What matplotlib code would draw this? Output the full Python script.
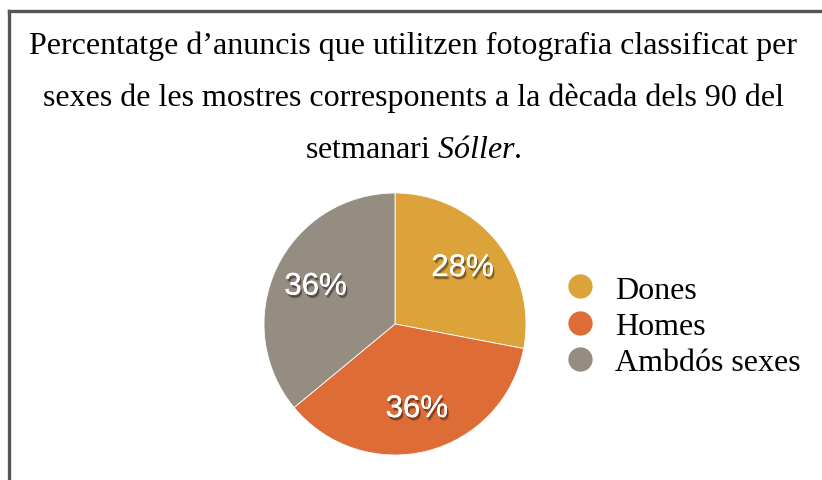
import matplotlib
matplotlib.use("Agg")
import matplotlib.pyplot as plt
from matplotlib.lines import Line2D
import matplotlib.patheffects as pe

plt.rcParams["mathtext.fontset"] = "custom"
plt.rcParams["mathtext.rm"] = "Liberation Serif"
plt.rcParams["mathtext.it"] = "Liberation Serif:italic"

categories = ["Dones", "Homes", "Ambdós sexes"]
values = [28, 36, 36]
colors = ["#DCA33A", "#DD6C36", "#958C82"]

W, H = 822, 481
fig = plt.figure(figsize=(W / 100, H / 100), dpi=100)

# frame (top + left)
fig.add_artist(Line2D([9 / W, 1], [1 - 12 / H, 1 - 12 / H], transform=fig.transFigure,
                      color="#555555", linewidth=2.4, solid_capstyle="projecting"))
fig.add_artist(Line2D([9 / W, 9 / W], [0, 1 - 12 / H], transform=fig.transFigure,
                      color="#555555", linewidth=2.4))

# title
serif = ["Liberation Serif", "DejaVu Serif"]
tx = 413 / W
fig.text(tx, 1 - 46 / H, "Percentatge d’anuncis que utilitzen fotografia classificat per",
         ha="center", va="center", fontsize=23, family=serif)
fig.text(tx, 1 - 98 / H, "sexes de les mostres corresponents a la dècada dels 90 del",
         ha="center", va="center", fontsize=23, family=serif)
fig.text(tx, 1 - 150 / H, r"setmanari $\mathit{Sóller}$.", ha="center", va="center",
         fontsize=23, family=serif)

# pie
cx, cy, r = 395, 325, 131
ax = fig.add_axes([(cx - r) / W, 1 - (cy + r) / H, 2 * r / W, 2 * r / H])
wedges, texts, autotexts = ax.pie(values, colors=colors, startangle=90, counterclock=False,
                                  autopct=lambda p: f"{p:.0f}%", pctdistance=0.67,
                                  wedgeprops=dict(linewidth=0.6, edgecolor="white"),
                                  textprops=dict(color="white", fontsize=22.5,
                                                 family=["Liberation Sans", "DejaVu Sans"]))
for t in autotexts:
    t.set_path_effects([
        pe.withSimplePatchShadow(offset=(1.5, -2.5), shadow_rgbFace="black", alpha=0.18),
        pe.withSimplePatchShadow(offset=(1.0, -1.8), shadow_rgbFace="black", alpha=0.35),
        pe.Normal()])
ax.set_xlim(-1, 1)
ax.set_ylim(-1, 1)
ax.set_aspect("auto")
ax.axis("off")

# legend
handles = [Line2D([], [], marker="o", linestyle="none", markersize=16.5,
                  markerfacecolor=c, markeredgecolor=c) for c in colors]
fig.legend(handles, categories, loc="center left", bbox_to_anchor=(561 / W, 1 - 327 / H),
           frameon=False, prop=dict(family=serif, size=23), handletextpad=0.5,
           labelspacing=0.21, handlelength=1.2, borderpad=0, borderaxespad=0)

fig.savefig("out.png", dpi=100)
